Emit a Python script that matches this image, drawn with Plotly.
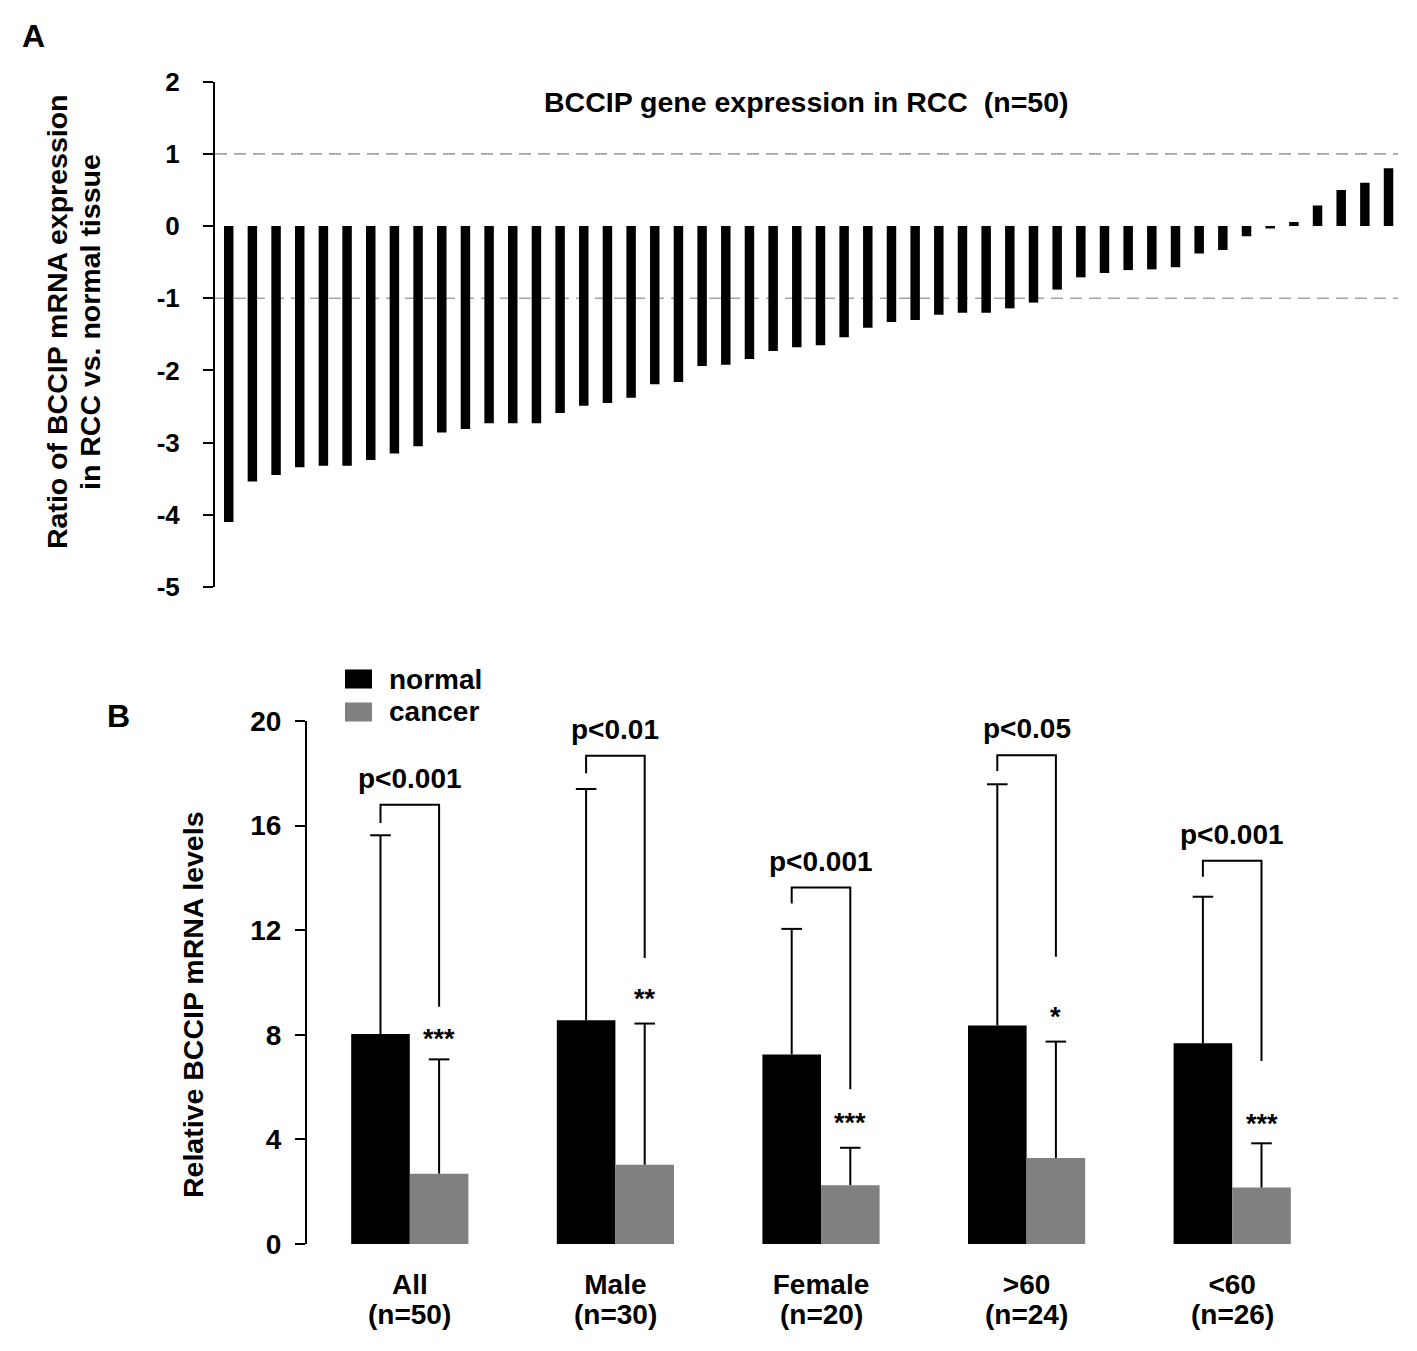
import plotly.graph_objects as go

W, H = 1417, 1351
FONT = "Liberation Sans"
PAGE_OFFSET = 8  # the page body margin shifts the figure by this many px

# ---------------- Panel A data ----------------
ratio_values = [
    -4.10, -3.54, -3.45, -3.34, -3.32, -3.32, -3.24, -3.15, -3.05, -2.86,
    -2.81, -2.73, -2.73, -2.73, -2.59, -2.49, -2.45, -2.38, -2.19, -2.16,
    -1.94, -1.92, -1.84, -1.73, -1.68, -1.65, -1.54, -1.41, -1.33, -1.30,
    -1.23, -1.20, -1.20, -1.14, -1.06, -0.88, -0.71, -0.65, -0.61, -0.60,
    -0.57, -0.38, -0.33, -0.14, -0.035, 0.055, 0.285, 0.50, 0.60, 0.80,
]
a_ticks = [-5, -4, -3, -2, -1, 0, 1, 2]
a_ticktext = ["-5", "-4", "-3", "-2", "-1", "0", "1", "2"]
threshold_lines = [1, -1]

# ---------------- Panel B data ----------------
groups = ["All", "Male", "Female", ">60", "<60"]
group_n = ["(n=50)", "(n=30)", "(n=20)", "(n=24)", "(n=26)"]
normal_mean = [8.03, 8.56, 7.25, 8.36, 7.68]
normal_sd = [7.60, 8.84, 4.80, 9.22, 5.60]
cancer_mean = [2.69, 3.03, 2.25, 3.29, 2.16]
cancer_sd = [4.37, 5.40, 1.43, 4.45, 1.69]
p_labels = ["p<0.001", "p<0.01", "p<0.001", "p<0.05", "p<0.001"]
stars = ["***", "**", "***", "*", "***"]
bracket_top = [16.8, 18.67, 13.63, 18.69, 14.66]
bracket_left_end = [16.1, 18.0, 13.02, 18.09, 14.04]
bracket_right_end = [9.07, 10.94, 5.92, 10.98, 7.0]
star_y = [7.85, 9.37, 4.62, 8.68, 4.6]
b_ticks = [0, 4, 8, 12, 16, 20]


def px(x):
    return (x - PAGE_OFFSET) / W


def py(y):
    return 1 - (y - PAGE_OFFSET) / H


bold = dict(family=FONT, color="black", weight="bold")

fig = go.Figure()

# Panel A bars
fig.add_trace(go.Bar(
    x=list(range(len(ratio_values))), y=ratio_values, width=0.4,
    marker=dict(color="black", line=dict(width=0)),
    xaxis="x", yaxis="y", showlegend=False, hoverinfo="y",
))

# Panel B bars
BW = 0.285
CAP = 0.05  # half width of the error-bar cap, in category units
xs = list(range(len(groups)))
fig.add_trace(go.Bar(
    x=xs, y=normal_mean, width=BW, offset=-BW, name="normal",
    marker=dict(color="black", line=dict(width=0)),
    xaxis="x2", yaxis="y2", showlegend=False,
))
fig.add_trace(go.Bar(
    x=xs, y=cancer_mean, width=BW, offset=0, name="cancer",
    marker=dict(color="#808080", line=dict(width=0)),
    xaxis="x2", yaxis="y2", showlegend=False,
))

# one-sided (upper) error bars with a cap only at the top
err_x, err_y = [], []
for i in xs:
    for off, means, sds in ((-BW / 2, normal_mean, normal_sd),
                            (BW / 2, cancer_mean, cancer_sd)):
        xc = i + off
        top = means[i] + sds[i]
        err_x += [xc, xc, None, xc - CAP, xc + CAP, None]
        err_y += [means[i], top, None, top, top, None]
fig.add_trace(go.Scatter(
    x=err_x, y=err_y, mode="lines", line=dict(color="black", width=2),
    xaxis="x2", yaxis="y2", showlegend=False, hoverinfo="skip",
))

shapes = []
annotations = []


def note(x, y, text, size, xref="paper", yref="paper", xanchor="center",
         yanchor="middle", **kw):
    d = dict(x=x, y=y, xref=xref, yref=yref, text=text, showarrow=False,
             xanchor=xanchor, yanchor=yanchor, font=dict(size=size, **bold))
    d.update(kw)
    annotations.append(d)


# dashed threshold lines
for v in threshold_lines:
    shapes.append(dict(type="line", xref="x domain", yref="y", x0=0, x1=1,
                       y0=v, y1=v, layer="below",
                       line=dict(color="#a3a3a3", width=1.6, dash="12px,7px")))

# brackets + p labels + stars + group sizes
for i in xs:
    xl = i - BW / 2
    xr = i + BW / 2
    path = (f"M {xl},{bracket_left_end[i]} L {xl},{bracket_top[i]} "
            f"L {xr},{bracket_top[i]} L {xr},{bracket_right_end[i]}")
    shapes.append(dict(type="path", xref="x2", yref="y2", path=path,
                       line=dict(color="black", width=2)))
    note(i, bracket_top[i], p_labels[i], 28, xref="x2", yref="y2",
         yanchor="bottom", yshift=9)
    note(xr, star_y[i], stars[i], 27, xref="x2", yref="y2")
    note(i, py(1314), group_n[i], 28, xref="x2", yref="paper")

# legend (manual)
legend_items = [("normal", "black", 679), ("cancer", "#808080", 712)]
for label, col, yc in legend_items:
    shapes.append(dict(type="rect", xref="paper", yref="paper",
                       x0=px(345), x1=px(372), y0=py(yc + 9.5), y1=py(yc - 9.5),
                       fillcolor=col, line=dict(width=0)))
    note(px(387), py(yc), label, 28, xanchor="left")

# titles, axis titles and panel letters
note(px(806), py(102), "BCCIP gene expression in RCC&nbsp; (n=50)", 28.5)
note(px(57), py(322), "Ratio of BCCIP mRNA expression", 28.5, textangle=-90)
note(px(90), py(322), "in RCC vs. normal tissue", 28.5, textangle=-90)
note(px(193), py(1005), "Relative BCCIP mRNA levels", 28.5, textangle=-90)
note(px(33), py(36), "A", 32)
note(px(118), py(716), "B", 32)

fig.update_layout(
    width=W, height=H, autosize=False,
    margin=dict(l=0, r=0, t=0, b=0, pad=0),
    paper_bgcolor="white", plot_bgcolor="white",
    barmode="overlay",
    shapes=shapes, annotations=annotations,
    xaxis=dict(domain=[px(215), px(1398)], range=[-0.58, 49.4],
               showticklabels=False, showline=False, showgrid=False,
               zeroline=False, ticks="", anchor="y", automargin=False),
    yaxis=dict(domain=[py(587), py(81.7)], range=[-5, 2], tickvals=a_ticks,
               ticktext=a_ticktext,
               showline=True, linecolor="black", linewidth=2,
               ticks="outside", ticklen=10, tickwidth=2, tickcolor="black",
               showgrid=False, zeroline=False, ticklabelstandoff=18,
               tickfont=dict(size=26, **bold), anchor="x", automargin=False),
    xaxis2=dict(domain=[px(307), px(1335)], range=[-0.5, 4.5],
                tickvals=xs, ticktext=groups,
                showline=False, showgrid=False, zeroline=False, ticks="",
                ticklabelstandoff=21, automargin=False,
                tickfont=dict(size=28, **bold), anchor="y2"),
    yaxis2=dict(domain=[py(1244), py(721)], range=[0, 20], tickvals=b_ticks,
                showline=True, linecolor="black", linewidth=2,
                ticks="outside", ticklen=10, tickwidth=2, tickcolor="black",
                showgrid=False, zeroline=False, ticklabelstandoff=8,
                automargin=False,
                tickfont=dict(size=28, **bold), anchor="x2"),
)

fig.write_html("out.html")
